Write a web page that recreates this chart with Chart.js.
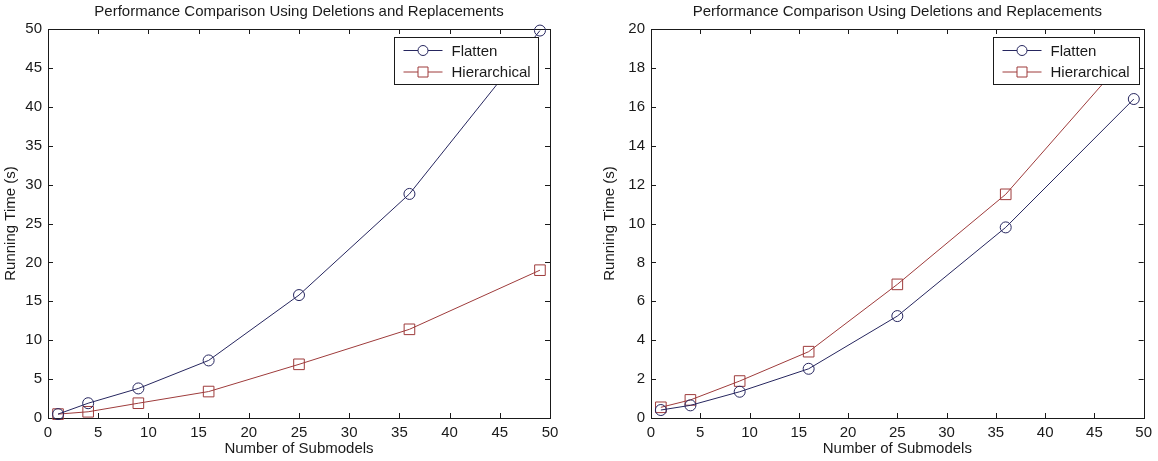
<!DOCTYPE html>
<html><head><meta charset="utf-8">
<script src="https://cdn.jsdelivr.net/npm/chart.js@4/dist/chart.umd.min.js"></script>
<style>
html,body{margin:0;padding:0;background:#fff;width:1158px;height:461px;overflow:hidden}
canvas{position:absolute;top:0}
</style></head><body>
<canvas id="c1" width="580" height="461" style="left:0"></canvas>
<canvas id="c2" width="559" height="461" style="left:599px"></canvas>
<script>
const submodels = [1, 4, 9, 16, 25, 36, 49];
const seriesNames = ['Flatten', 'Hierarchical'];
const leftFlatten = [0.5, 1.9, 3.8, 7.4, 15.8, 28.8, 49.8];
const leftHierarchical = [0.5, 0.8, 1.9, 3.4, 6.9, 11.4, 19.0];
const rightFlatten = [0.41, 0.65, 1.35, 2.53, 5.24, 9.8, 16.4];
const rightHierarchical = [0.55, 0.93, 1.9, 3.41, 6.87, 11.5, 19.0];
const titleText = 'Performance Comparison Using Deletions and Replacements';
const xTitle = 'Number of Submodels';
const yTitle = 'Running Time (s)';

const FONT = '"Liberation Sans", Arial, Helvetica, sans-serif';
const BLUE = '#26265f';
const RED = '#9e3b3b';
const INK = '#1a1a1a';

const framePlugin = {
  id: 'frame',
  beforeDatasetsDraw(chart) {
    const {ctx, chartArea: a, scales} = chart;
    ctx.save();
    ctx.strokeStyle = INK;
    ctx.lineWidth = 1;
    ctx.beginPath();
    scales.x.ticks.forEach(t => {
      const px = Math.round(scales.x.getPixelForValue(t.value)) + 0.5;
      ctx.moveTo(px, a.bottom); ctx.lineTo(px, a.bottom - 5);
      ctx.moveTo(px, a.top); ctx.lineTo(px, a.top + 5);
    });
    scales.y.ticks.forEach(t => {
      const py = Math.round(scales.y.getPixelForValue(t.value)) + 0.5;
      ctx.moveTo(a.left, py); ctx.lineTo(a.left + 5, py);
      ctx.moveTo(a.right, py); ctx.lineTo(a.right - 5, py);
    });
    ctx.stroke();
    ctx.strokeRect(Math.round(a.left) + 0.5, Math.round(a.top) + 0.5,
      Math.round(a.right - a.left), Math.round(a.bottom - a.top));
    ctx.restore();
  }
};

const boxLegendPlugin = {
  id: 'boxLegend',
  afterDraw(chart, args, opts) {
    const {ctx, chartArea: a} = chart;
    const w = opts.width, h = opts.height;
    const x0 = Math.round(a.right - opts.offsetRight - w) + 0.5;
    const y0 = Math.round(a.top + opts.offsetTop) + 0.5;
    ctx.save();
    ctx.fillStyle = '#fff';
    ctx.fillRect(x0, y0, w, h);
    ctx.strokeStyle = INK;
    ctx.lineWidth = 1;
    ctx.strokeRect(x0, y0, w, h);
    chart.data.datasets.forEach((ds, i) => {
      const y = y0 + 13 + i * 21.5;
      ctx.strokeStyle = ds.borderColor;
      ctx.beginPath();
      ctx.moveTo(x0 + 9, y); ctx.lineTo(x0 + 48, y);
      ctx.stroke();
      ctx.beginPath();
      if (ds.pointStyle === 'rect') {
        ctx.rect(x0 + 23.5, y - 5, 10, 10);
      } else {
        ctx.arc(x0 + 28.5, y, 5, 0, Math.PI * 2);
      }
      ctx.fillStyle = '#fff';
      ctx.fill();
      ctx.stroke();
      ctx.fillStyle = INK;
      ctx.font = '15px ' + FONT;
      ctx.textBaseline = 'middle';
      ctx.fillText(ds.label, x0 + 57, y + 1);
    });
    ctx.restore();
  }
};

function makeChart(id, flat, hier, yMax, yStep, yAxisWidth, padRight, legendOpts) {
  const mkData = vals => submodels.map((x, i) => ({x: x, y: vals[i]}));
  return new Chart(document.getElementById(id), {
    type: 'line',
    data: {
      datasets: [
        {label: seriesNames[0], data: mkData(flat), borderColor: BLUE, backgroundColor: 'rgba(0,0,0,0)',
         borderWidth: 1, pointStyle: 'circle', pointRadius: 5.5, pointBorderWidth: 1,
         pointBorderColor: BLUE, pointBackgroundColor: 'rgba(0,0,0,0)', tension: 0, clip: false},
        {label: seriesNames[1], data: mkData(hier), borderColor: RED, backgroundColor: 'rgba(0,0,0,0)',
         borderWidth: 1, pointStyle: 'rect', pointRadius: 7.5, pointBorderWidth: 1,
         pointBorderColor: RED, pointBackgroundColor: 'rgba(0,0,0,0)', tension: 0, clip: false}
      ]
    },
    options: {
      responsive: false,
      animation: false,
      devicePixelRatio: 1,
      layout: {padding: {left: 0, right: padRight, top: 0, bottom: 0}},
      plugins: {
        legend: {display: false},
        tooltip: {enabled: false},
        title: {display: true, text: titleText, fullSize: false, color: INK,
                font: {family: FONT, size: 15, weight: 'normal'}, padding: {top: 2.5, bottom: 8.5}},
        boxLegend: legendOpts
      },
      scales: {
        x: {type: 'linear', min: 0, max: 50,
            ticks: {stepSize: 5, color: INK, font: {family: FONT, size: 15}, padding: 6, maxRotation: 0},
            grid: {display: false, drawTicks: false}, border: {display: false},
            title: {display: true, text: xTitle, color: INK, font: {family: FONT, size: 15}, padding: {top: 0, bottom: 3}},
            afterFit: s => { s.height = 43; }},
        y: {type: 'linear', min: 0, max: yMax,
            ticks: {stepSize: yStep, color: INK, font: {family: FONT, size: 15}, padding: 6},
            grid: {display: false, drawTicks: false}, border: {display: false},
            title: {display: true, text: yTitle, color: INK, font: {family: FONT, size: 15}, padding: {top: 2, bottom: 0}},
            afterFit: s => { s.width = yAxisWidth; }}
      }
    },
    plugins: [framePlugin, boxLegendPlugin]
  });
}

makeChart('c1', leftFlatten, leftHierarchical, 50, 5, 48, 30,
  {offsetRight: 12, offsetTop: 8, width: 144, height: 47});
makeChart('c2', rightFlatten, rightHierarchical, 20, 2, 52, 8,
  {offsetRight: 5, offsetTop: 8, width: 146, height: 47});
</script>
</body></html>
